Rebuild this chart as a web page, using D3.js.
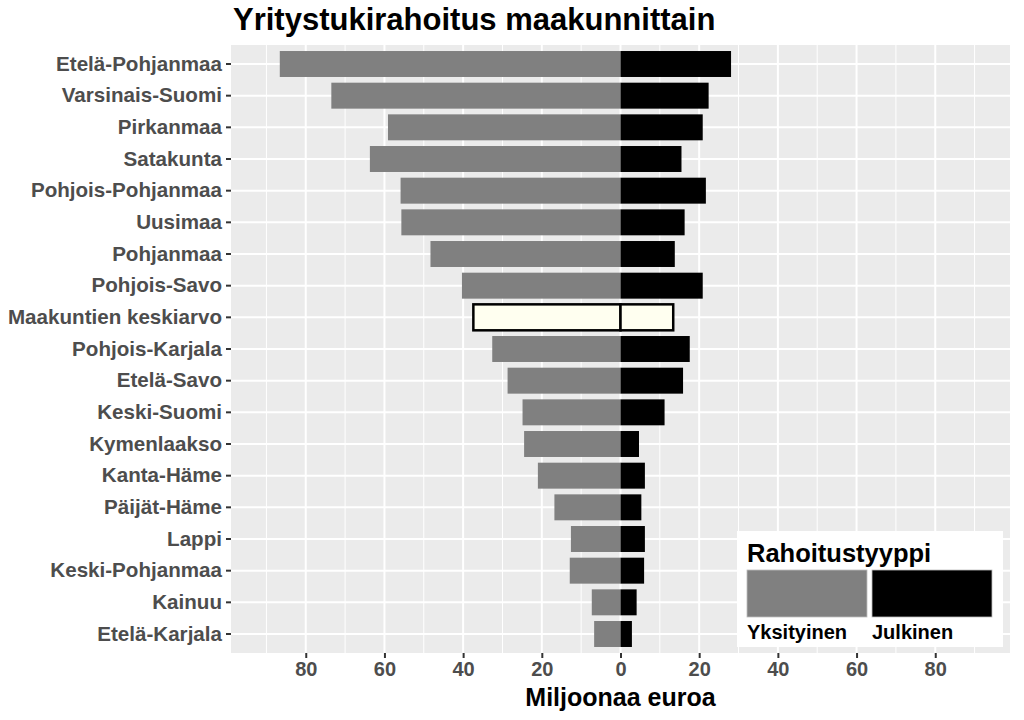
<!DOCTYPE html>
<html>
<head>
<meta charset="utf-8">
<script src="https://cdn.jsdelivr.net/npm/d3@7"></script>
<style>
  html, body { margin: 0; padding: 0; background: #ffffff; }
  svg { display: block; font-family: "Liberation Sans", Arial, sans-serif; }
</style>
</head>
<body>
<svg id="chart" width="1024" height="720"></svg>
<script>
const categories = [
  "Etelä-Pohjanmaa", "Varsinais-Suomi", "Pirkanmaa", "Satakunta",
  "Pohjois-Pohjanmaa", "Uusimaa", "Pohjanmaa", "Pohjois-Savo",
  "Maakuntien keskiarvo", "Pohjois-Karjala", "Etelä-Savo", "Keski-Suomi",
  "Kymenlaakso", "Kanta-Häme", "Päijät-Häme", "Lappi",
  "Keski-Pohjanmaa", "Kainuu", "Etelä-Karjala"
];
const yksityinen = [86.6, 73.5, 59.1, 63.7, 55.9, 55.7, 48.3, 40.3, 37.4, 32.6,
                    28.7, 24.9, 24.5, 21.0, 16.8, 12.6, 12.9, 7.3, 6.7];
const julkinen = [28.1, 22.4, 20.9, 15.5, 21.7, 16.3, 13.8, 20.9, 13.4, 17.6,
                  15.9, 11.2, 4.7, 6.2, 5.3, 6.2, 6.0, 4.1, 2.9];
const meanCategory = "Maakuntien keskiarvo";
const seriesNames = ["Yksityinen", "Julkinen"];
const xTicks = [-80, -60, -40, -20, 0, 20, 40, 60, 80];
const xMinor = [-90, -70, -50, -30, -10, 10, 30, 50, 70, 90];
const titleText = "Yritystukirahoitus maakunnittain";
const xTitle = "Miljoonaa euroa";
const legendTitle = "Rahoitustyyppi";

const colors = { Yksityinen: "#808080", Julkinen: "#000000" };
const meanFill = "#fffff0";

const svg = d3.select("#chart");
const panel = { left: 231, right: 1010, top: 45, bottom: 653 };

const x = d3.scaleLinear().domain([-99, 99]).range([panel.left, panel.right]);
const y = d3.scaleBand().domain(categories)
  .range([panel.top, panel.bottom])
  .paddingInner(0.18).paddingOuter(0.19);
const yc = c => y(c) + y.bandwidth() / 2;

// panel background
svg.append("rect")
  .attr("x", panel.left).attr("y", panel.top)
  .attr("width", panel.right - panel.left).attr("height", panel.bottom - panel.top)
  .attr("fill", "#ebebeb");

const grid = svg.append("g");
grid.selectAll(".minor").data(xMinor).join("line")
  .attr("x1", d => x(d)).attr("x2", d => x(d))
  .attr("y1", panel.top).attr("y2", panel.bottom)
  .attr("stroke", "#ffffff").attr("stroke-width", 1);
grid.selectAll(".majx").data(xTicks).join("line")
  .attr("x1", d => x(d)).attr("x2", d => x(d))
  .attr("y1", panel.top).attr("y2", panel.bottom)
  .attr("stroke", "#ffffff").attr("stroke-width", 2);
grid.selectAll(".majy").data(categories).join("line")
  .attr("x1", panel.left).attr("x2", panel.right)
  .attr("y1", d => yc(d)).attr("y2", d => yc(d))
  .attr("stroke", "#ffffff").attr("stroke-width", 2);

// bars
const rows = categories.map((c, i) => ({ c, yks: yksityinen[i], julk: julkinen[i] }));
const bars = svg.append("g");
bars.selectAll(".yks").data(rows).join("rect")
  .attr("x", d => x(-d.yks)).attr("y", d => y(d.c))
  .attr("width", d => x(0) - x(-d.yks)).attr("height", y.bandwidth())
  .attr("fill", d => d.c === meanCategory ? meanFill : colors.Yksityinen)
  .attr("stroke", d => d.c === meanCategory ? "#000" : "none")
  .attr("stroke-width", d => d.c === meanCategory ? 2.5 : 0);
bars.selectAll(".julk").data(rows).join("rect")
  .attr("x", x(0)).attr("y", d => y(d.c))
  .attr("width", d => x(d.julk) - x(0)).attr("height", y.bandwidth())
  .attr("fill", d => d.c === meanCategory ? meanFill : colors.Julkinen)
  .attr("stroke", d => d.c === meanCategory ? "#000" : "none")
  .attr("stroke-width", d => d.c === meanCategory ? 2.5 : 0);

// axes
const yAxis = svg.append("g")
  .attr("transform", `translate(${panel.left},0)`)
  .call(d3.axisLeft(y).tickSize(5).tickPadding(4));
yAxis.select(".domain").remove();
yAxis.selectAll(".tick line").attr("stroke", "#333333").attr("stroke-width", 2);
yAxis.selectAll(".tick text")
  .attr("fill", "#4d4d4d").attr("font-size", 20.6).attr("font-weight", "bold")
  .attr("font-family", "'Liberation Sans', Arial, sans-serif");

const xAxis = svg.append("g")
  .attr("transform", `translate(0,${panel.bottom})`)
  .call(d3.axisBottom(x).tickValues(xTicks).tickFormat(d => Math.abs(d)).tickSize(5).tickPadding(4));
xAxis.select(".domain").remove();
xAxis.selectAll(".tick line").attr("stroke", "#333333").attr("stroke-width", 2);
xAxis.selectAll(".tick text")
  .attr("fill", "#4d4d4d").attr("font-size", 20).attr("font-weight", "bold")
  .attr("font-family", "'Liberation Sans', Arial, sans-serif");

// titles
svg.append("text")
  .attr("x", panel.left + 2).attr("y", 30)
  .attr("font-size", 31).attr("font-weight", "bold").attr("fill", "#000")
  .text(titleText);
svg.append("text")
  .attr("x", (panel.left + panel.right) / 2).attr("y", 706)
  .attr("text-anchor", "middle")
  .attr("font-size", 25).attr("font-weight", "bold").attr("fill", "#000")
  .text(xTitle);

// legend
const lg = svg.append("g");
lg.append("rect").attr("x", 737).attr("y", 531).attr("width", 266).attr("height", 116)
  .attr("fill", "#ffffff");
lg.append("text").attr("x", 747).attr("y", 562)
  .attr("font-size", 25.5).attr("font-weight", "bold").attr("fill", "#000")
  .text(legendTitle);
const keyW = 120, keyGap = 5;
seriesNames.forEach((s, i) => {
  const kx = 747 + i * (keyW + keyGap);
  lg.append("rect").attr("x", kx).attr("y", 570).attr("width", keyW).attr("height", 47)
    .attr("fill", colors[s]).attr("stroke", "#bdbdbd").attr("stroke-width", 0.8);
  lg.append("text").attr("x", kx).attr("y", 639)
    .attr("font-size", 20).attr("font-weight", "bold").attr("fill", "#000")
    .text(s);
});
</script>
</body>
</html>
